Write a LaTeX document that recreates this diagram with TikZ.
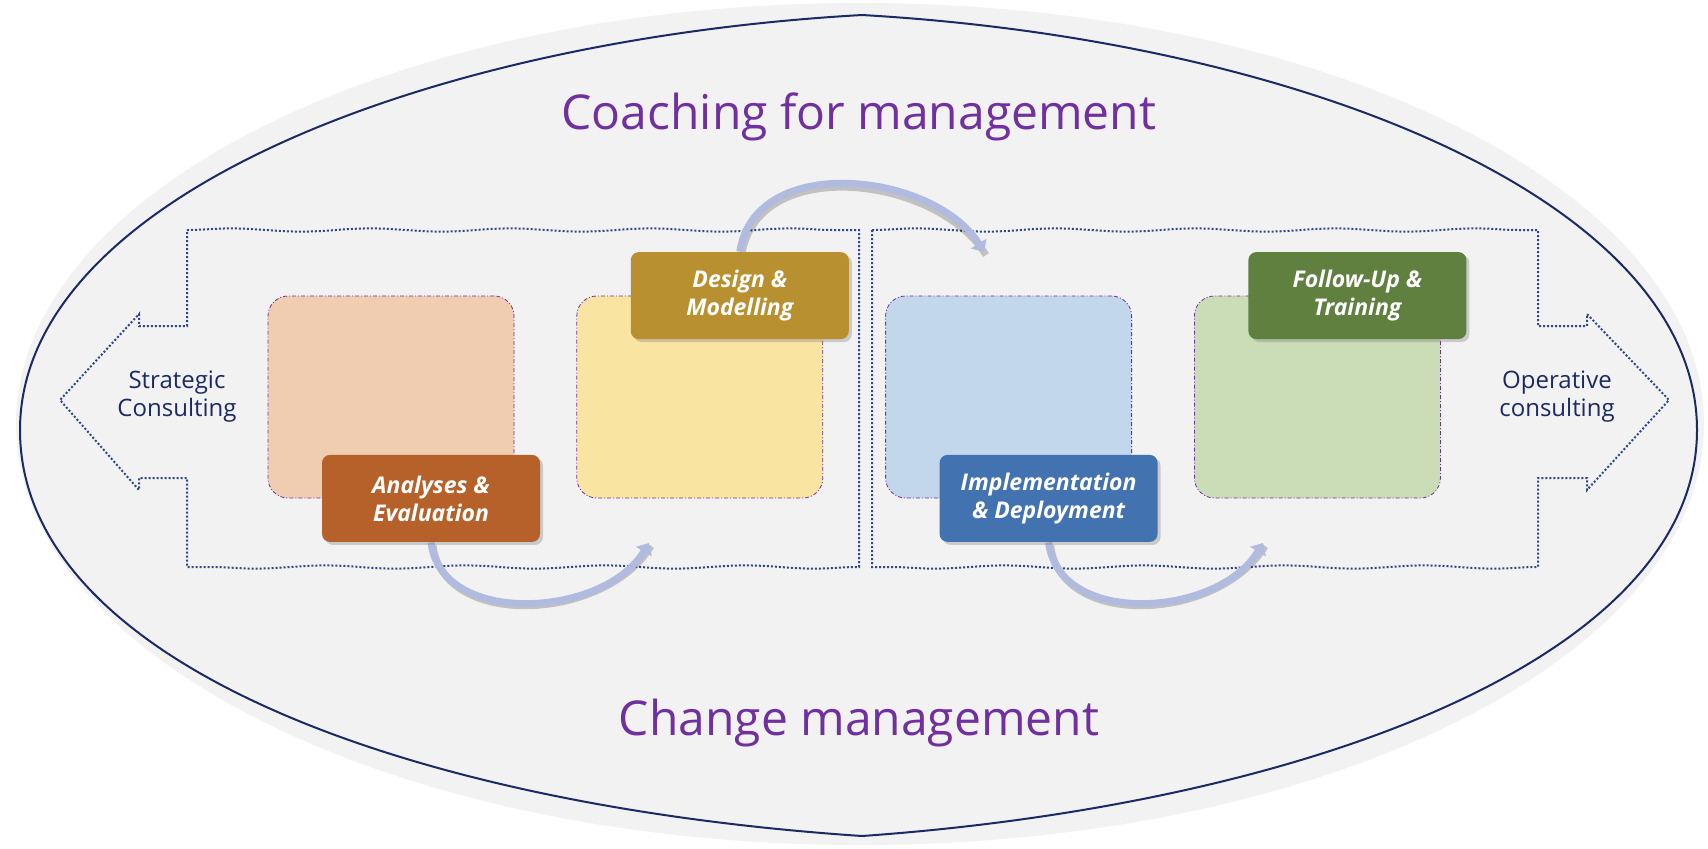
\documentclass[tikz,border=0pt]{standalone}
\usepackage{fontspec}
\setmainfont{Open Sans}
\usetikzlibrary{positioning,shadows,arrows.meta,decorations.pathmorphing,backgrounds}
\definecolor{gris}{HTML}{F2F2F2}
\definecolor{marino}{HTML}{1B2A62}
\definecolor{punteado}{HTML}{2F4788}
\definecolor{morado}{HTML}{7030A0}
\definecolor{naranja}{HTML}{B7612A}
\definecolor{dorado}{HTML}{B89030}
\definecolor{azul}{HTML}{4272B0}
\definecolor{verde}{HTML}{5F803F}
\definecolor{naranjaclaro}{HTML}{F0CDB0}
\definecolor{amarilloclaro}{HTML}{FAE4A2}
\definecolor{azulclaro}{HTML}{C3D7EC}
\definecolor{verdeclaro}{HTML}{CADDB6}
\definecolor{lavanda}{HTML}{B1BBE0}
\tikzstyle{Fase}=[rectangle, rounded corners=10pt, draw=morado, dash pattern=on 2pt off 1pt on 0.5pt off 1pt, line width=0.4pt, minimum width=123pt, minimum height=101pt]
\tikzstyle{Etiqueta}=[rectangle, rounded corners=4pt, text=white, font=\bfseries\itshape\fontsize{11.5}{14}\selectfont, align=center, minimum width=109pt, minimum height=43.5pt, inner sep=2pt, drop shadow={shadow xshift=1.5pt, shadow yshift=-1.5pt, opacity=0.35}]
\tikzstyle{Titulo}=[text=morado, font=\fontsize{24}{28}\selectfont]
\tikzstyle{Lado}=[text=marino, font=\fontsize{12}{14}\selectfont, align=center]
\tikzstyle{Consultoria}=[draw=punteado, dash pattern=on 1pt off 1pt, line width=1pt, decoration={snake, amplitude=0.8pt, segment length=70pt}]
\tikzstyle{Giro}=[-{Triangle[length=5pt, width=9pt]}, line width=3.5pt, draw=lavanda]
\tikzstyle{Sombra}=[line width=3.5pt, draw=black, opacity=0.2, transform canvas={shift={(1pt,-1.5pt)}}]

\begin{document}
\begin{tikzpicture}[x=0.5pt, y=-0.5pt]
	\useasboundingbox (0,0) rectangle (1708,848);

	%Fondo
	\begin{scope}[on background layer]
		\fill[gris] (860,424) ellipse [x radius=422pt, y radius=210.5pt];
		\draw[marino, line width=1pt] (862,15) .. controls (420,40) and (20,200) .. (20,430)
			.. controls (20,660) and (400,805) .. (862,836)
			.. controls (1300,805) and (1697,660) .. (1697,430)
			.. controls (1697,200) and (1300,40) .. cycle;

		\draw[Consultoria] (187,230) decorate {-- (859,230)} -- (859,567) decorate {-- (187,567)} -- (187,478) -- (139,478) -- (139,490) -- (60,400) -- (139,314) -- (139,326) -- (187,326) -- cycle;
		\draw[Consultoria] (872,230) decorate {-- (1538,230)} -- (1538,326) -- (1587,326) -- (1587,314) -- (1669,400) -- (1587,490) -- (1587,478) -- (1538,478) -- (1538,567) decorate {-- (872,567)} -- cycle;

		%Nodos
		\node[Fase, fill=naranjaclaro]	(analisis)						at (391,397)	{};
		\node[Fase, fill=amarilloclaro]	(diseno)		[right=31pt of analisis]	{};
		\node[Fase, fill=azulclaro]		(implantacion)	[right=31pt of diseno]		{};
		\node[Fase, fill=verdeclaro]	(seguimiento)	[right=31pt of implantacion]	{};
	\end{scope}

	\node[Etiqueta, fill=naranja]	(etq_analisis)		at ([xshift=20pt]analisis.south)		{Analyses \&\\Evaluation};
	\node[Etiqueta, fill=dorado]	(etq_diseno)		at ([xshift=20pt]diseno.north)			{Design \&\\Modelling};
	\node[Etiqueta, fill=azul]		(etq_implantacion)	at ([xshift=20pt]implantacion.south)	{Implementation\\\& Deployment};
	\node[Etiqueta, fill=verde]		(etq_seguimiento)	at ([xshift=20pt]seguimiento.north)	{Follow-Up \&\\Training};

	\node[Titulo]	(coaching)	at (859,117)	{Coaching for management};
	\node[Titulo]	(cambio)	at (859,723)	{Change management};
	\node[Lado]		(estrategica)	at (177,397)	{Strategic\\Consulting};
	\node[Lado]		(operativa)		at (1557,397)	{Operative\\consulting};

	\coordinate (fin_diseno)		at (649,543);
	\coordinate (fin_implantacion)	at (984,252);
	\coordinate (fin_seguimiento)	at (1263,543);

	%Lineas
	\begin{scope}[on background layer]
		\draw[Sombra] (etq_analisis.south) .. controls +(10,85) and +(-45,75) .. (fin_diseno);
		\draw[Giro] (etq_analisis.south) .. controls +(10,85) and +(-45,75) .. (fin_diseno);
		\draw[Sombra] (etq_diseno.north) .. controls +(15,-100) and +(-50,-80) .. (fin_implantacion);
		\draw[Giro] (etq_diseno.north) .. controls +(15,-100) and +(-50,-80) .. (fin_implantacion);
		\draw[Sombra] (etq_implantacion.south) .. controls +(10,85) and +(-45,75) .. (fin_seguimiento);
		\draw[Giro] (etq_implantacion.south) .. controls +(10,85) and +(-45,75) .. (fin_seguimiento);
	\end{scope}
\end{tikzpicture}
\end{document}
